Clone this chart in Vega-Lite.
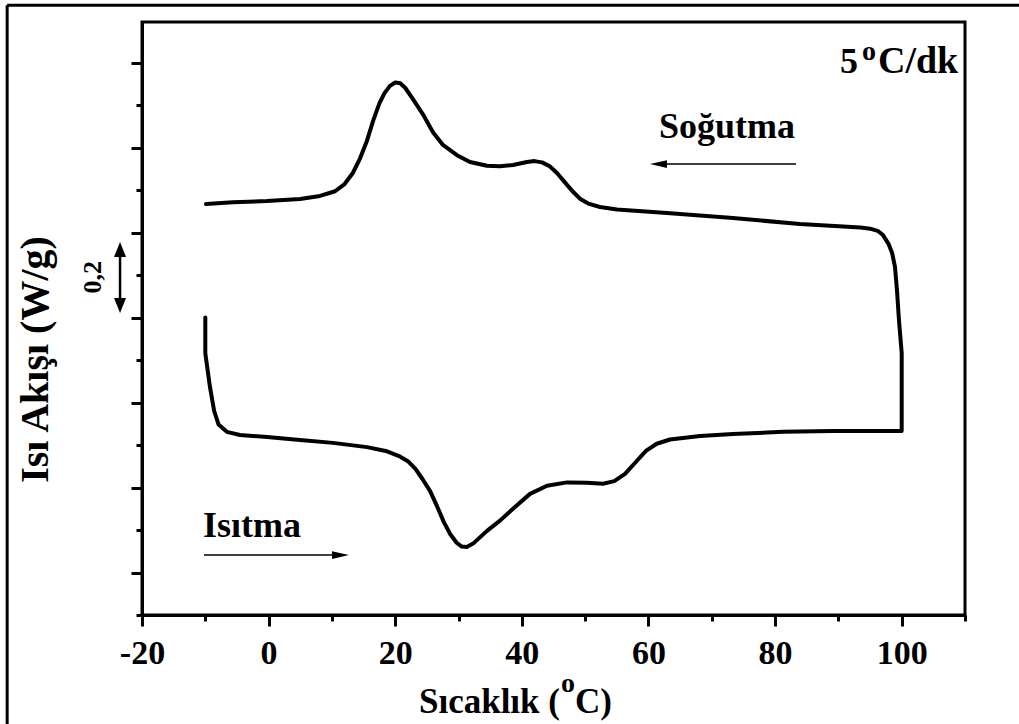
{
  "$schema": "https://vega.github.io/schema/vega-lite/v6.json",
  "width": 823,
  "height": 593,
  "autosize": {"type": "none"},
  "padding": {"left": 142, "top": 22, "right": 54, "bottom": 109},
  "background": "white",
  "config": {
    "view": {"stroke": "black", "strokeWidth": 3},
    "font": "Liberation Serif",
    "axis": {
      "grid": false,
      "domainColor": "black",
      "domainWidth": 3,
      "tickColor": "black",
      "tickWidth": 3,
      "labelColor": "black",
      "titleColor": "black",
      "labelFont": "Liberation Serif",
      "titleFont": "Liberation Serif",
      "labelFontWeight": "bold",
      "titleFontWeight": "bold"
    },
    "text": {"font": "Liberation Serif", "fontWeight": "bold", "color": "black"}
  },
  "layer": [
    {
      "data": {
        "values": [
          {"i": 1, "faz": "Isıtma", "T": -10.0, "Q": 0.70},
          {"i": 2, "faz": "Isıtma", "T": -10.0, "Q": 0.616},
          {"i": 3, "faz": "Isıtma", "T": -9.26, "Q": 0.536},
          {"i": 4, "faz": "Isıtma", "T": -8.6, "Q": 0.48},
          {"i": 5, "faz": "Isıtma", "T": -7.9, "Q": 0.448},
          {"i": 6, "faz": "Isıtma", "T": -6.6, "Q": 0.431},
          {"i": 7, "faz": "Isıtma", "T": -4.52, "Q": 0.4235},
          {"i": 8, "faz": "Isıtma", "T": -0.26, "Q": 0.419},
          {"i": 9, "faz": "Isıtma", "T": 4.96, "Q": 0.412},
          {"i": 10, "faz": "Isıtma", "T": 10.17, "Q": 0.405},
          {"i": 11, "faz": "Isıtma", "T": 15.54, "Q": 0.395},
          {"i": 12, "faz": "Isıtma", "T": 18.5, "Q": 0.386},
          {"i": 13, "faz": "Isıtma", "T": 20.6, "Q": 0.374},
          {"i": 14, "faz": "Isıtma", "T": 22.0, "Q": 0.362},
          {"i": 15, "faz": "Isıtma", "T": 23.2, "Q": 0.344},
          {"i": 16, "faz": "Isıtma", "T": 24.3, "Q": 0.32},
          {"i": 17, "faz": "Isıtma", "T": 25.49, "Q": 0.292},
          {"i": 18, "faz": "Isıtma", "T": 26.6, "Q": 0.256},
          {"i": 19, "faz": "Isıtma", "T": 27.7, "Q": 0.218},
          {"i": 20, "faz": "Isıtma", "T": 28.7, "Q": 0.19},
          {"i": 21, "faz": "Isıtma", "T": 29.7, "Q": 0.17},
          {"i": 22, "faz": "Isıtma", "T": 30.5, "Q": 0.161},
          {"i": 23, "faz": "Isıtma", "T": 31.3, "Q": 0.16},
          {"i": 24, "faz": "Isıtma", "T": 32.3, "Q": 0.168},
          {"i": 25, "faz": "Isıtma", "T": 34.49, "Q": 0.198},
          {"i": 26, "faz": "Isıtma", "T": 36.55, "Q": 0.222},
          {"i": 27, "faz": "Isıtma", "T": 38.6, "Q": 0.25},
          {"i": 28, "faz": "Isıtma", "T": 41.29, "Q": 0.285},
          {"i": 29, "faz": "Isıtma", "T": 43.97, "Q": 0.304},
          {"i": 30, "faz": "Isıtma", "T": 47.13, "Q": 0.312},
          {"i": 31, "faz": "Isıtma", "T": 50.29, "Q": 0.311},
          {"i": 32, "faz": "Isıtma", "T": 52.82, "Q": 0.309},
          {"i": 33, "faz": "Isıtma", "T": 54.6, "Q": 0.315},
          {"i": 34, "faz": "Isıtma", "T": 56.3, "Q": 0.332},
          {"i": 35, "faz": "Isıtma", "T": 58.0, "Q": 0.36},
          {"i": 36, "faz": "Isıtma", "T": 59.6, "Q": 0.386},
          {"i": 37, "faz": "Isıtma", "T": 61.3, "Q": 0.403},
          {"i": 38, "faz": "Isıtma", "T": 63.4, "Q": 0.413},
          {"i": 39, "faz": "Isıtma", "T": 68.14, "Q": 0.421},
          {"i": 40, "faz": "Isıtma", "T": 73.35, "Q": 0.426},
          {"i": 41, "faz": "Isıtma", "T": 81.25, "Q": 0.431},
          {"i": 42, "faz": "Isıtma", "T": 89.15, "Q": 0.433},
          {"i": 43, "faz": "Isıtma", "T": 100.0, "Q": 0.433},
          {"i": 44, "faz": "Soğutma", "T": 100.0, "Q": 0.506},
          {"i": 45, "faz": "Soğutma", "T": 100.0, "Q": 0.616},
          {"i": 46, "faz": "Soğutma", "T": 99.57, "Q": 0.694},
          {"i": 47, "faz": "Soğutma", "T": 99.25, "Q": 0.765},
          {"i": 48, "faz": "Soğutma", "T": 98.94, "Q": 0.819},
          {"i": 49, "faz": "Soğutma", "T": 98.5, "Q": 0.851},
          {"i": 50, "faz": "Soğutma", "T": 97.9, "Q": 0.874},
          {"i": 51, "faz": "Soğutma", "T": 97.04, "Q": 0.894},
          {"i": 52, "faz": "Soğutma", "T": 96.2, "Q": 0.904},
          {"i": 53, "faz": "Soğutma", "T": 95.0, "Q": 0.909},
          {"i": 54, "faz": "Soğutma", "T": 93.5, "Q": 0.912},
          {"i": 55, "faz": "Soğutma", "T": 83.93, "Q": 0.92},
          {"i": 56, "faz": "Soğutma", "T": 73.35, "Q": 0.934},
          {"i": 57, "faz": "Soğutma", "T": 62.93, "Q": 0.946},
          {"i": 58, "faz": "Soğutma", "T": 55.03, "Q": 0.954},
          {"i": 59, "faz": "Soğutma", "T": 52.34, "Q": 0.96},
          {"i": 60, "faz": "Soğutma", "T": 50.5, "Q": 0.968},
          {"i": 61, "faz": "Soğutma", "T": 49.3, "Q": 0.978},
          {"i": 62, "faz": "Soğutma", "T": 48.2, "Q": 0.994},
          {"i": 63, "faz": "Soğutma", "T": 47.13, "Q": 1.012},
          {"i": 64, "faz": "Soğutma", "T": 45.55, "Q": 1.04},
          {"i": 65, "faz": "Soğutma", "T": 44.4, "Q": 1.056},
          {"i": 66, "faz": "Soğutma", "T": 43.2, "Q": 1.065},
          {"i": 67, "faz": "Soğutma", "T": 42.0, "Q": 1.068},
          {"i": 68, "faz": "Soğutma", "T": 40.81, "Q": 1.066},
          {"i": 69, "faz": "Soğutma", "T": 38.6, "Q": 1.059},
          {"i": 70, "faz": "Soğutma", "T": 36.55, "Q": 1.056},
          {"i": 71, "faz": "Soğutma", "T": 34.49, "Q": 1.057},
          {"i": 72, "faz": "Soğutma", "T": 31.81, "Q": 1.066},
          {"i": 73, "faz": "Soğutma", "T": 29.75, "Q": 1.082},
          {"i": 74, "faz": "Soğutma", "T": 27.54, "Q": 1.106},
          {"i": 75, "faz": "Soğutma", "T": 25.96, "Q": 1.136},
          {"i": 76, "faz": "Soğutma", "T": 24.38, "Q": 1.178},
          {"i": 77, "faz": "Soğutma", "T": 22.8, "Q": 1.214},
          {"i": 78, "faz": "Soğutma", "T": 21.6, "Q": 1.24},
          {"i": 79, "faz": "Soğutma", "T": 20.8, "Q": 1.251},
          {"i": 80, "faz": "Soğutma", "T": 20.0, "Q": 1.253},
          {"i": 81, "faz": "Soğutma", "T": 19.17, "Q": 1.245},
          {"i": 82, "faz": "Soğutma", "T": 18.3, "Q": 1.228},
          {"i": 83, "faz": "Soğutma", "T": 17.5, "Q": 1.204},
          {"i": 84, "faz": "Soğutma", "T": 16.49, "Q": 1.162},
          {"i": 85, "faz": "Soğutma", "T": 15.54, "Q": 1.116},
          {"i": 86, "faz": "Soğutma", "T": 14.43, "Q": 1.074},
          {"i": 87, "faz": "Soğutma", "T": 13.3, "Q": 1.04},
          {"i": 88, "faz": "Soğutma", "T": 12.0, "Q": 1.014},
          {"i": 89, "faz": "Soğutma", "T": 10.5, "Q": 0.997},
          {"i": 90, "faz": "Soğutma", "T": 8.12, "Q": 0.986},
          {"i": 91, "faz": "Soğutma", "T": 4.96, "Q": 0.979},
          {"i": 92, "faz": "Soğutma", "T": -0.26, "Q": 0.974},
          {"i": 93, "faz": "Soğutma", "T": -5.63, "Q": 0.971},
          {"i": 94, "faz": "Soğutma", "T": -9.89, "Q": 0.967}
        ]
      },
      "mark": {"type": "line", "color": "black", "strokeWidth": 4, "interpolate": "linear", "strokeJoin": "round", "strokeCap": "round"},
      "encoding": {
        "x": {
          "field": "T", "type": "quantitative",
          "scale": {"domain": [-20, 110], "nice": false, "zero": false},
          "axis": {"orient": "bottom", "values": [-20, 0, 20, 40, 60, 80, 100], "tickSize": 11, "labelFontSize": 34, "labelPadding": 10, "labelExpr": "'' + datum.value", "labelFlush": false, "labelOverlap": false, "title": null}
        },
        "y": {
          "field": "Q", "type": "quantitative",
          "scale": {"domain": [0, 1.3953], "nice": false, "zero": false},
          "axis": {"orient": "left", "values": [0.1, 0.3, 0.5, 0.7, 0.9, 1.1, 1.3], "tickSize": 11, "labels": false, "title": "Isı Akışı (W/g)", "titleFontSize": 40, "titleX": -95, "titleY": 337, "titleAngle": 270, "titleBaseline": "alphabetic", "titleAlign": "center"}
        },
        "order": {"field": "i", "type": "quantitative"}
      }
    },
    {
      "data": {"values": [{}]},
      "mark": {"type": "rule", "color": "black", "strokeWidth": 3},
      "encoding": {
        "x": {"datum": -41.3, "type": "quantitative", "axis": {"orient": "bottom", "values": [-10, 10, 30, 50, 70, 90, 110], "tickSize": 6, "labels": false, "domain": false, "title": null}},
        "x2": {"datum": 125},
        "y": {"datum": 1.435, "type": "quantitative", "axis": {"orient": "left", "values": [0, 0.2, 0.4, 0.6, 0.8, 1.0, 1.2], "tickSize": 6, "labels": false, "domain": false, "title": null}}
      }
    },
    {
      "data": {"values": [{}]},
      "mark": {"type": "rule", "color": "black", "strokeWidth": 3},
      "encoding": {
        "x": {"datum": -41.3, "type": "quantitative", "axis": null},
        "y": {"datum": 1.435, "type": "quantitative", "axis": null},
        "y2": {"datum": -0.35}
      }
    },
    {
      "data": {"values": [{}]},
      "mark": {"type": "rule", "color": "black", "strokeWidth": 1.5},
      "encoding": {
        "x": {"datum": 83.3, "type": "quantitative", "axis": null},
        "x2": {"datum": 61.6},
        "y": {"datum": 1.061, "type": "quantitative", "axis": null}
      }
    },
    {
      "data": {"values": [{}]},
      "mark": {"type": "point", "filled": true, "color": "black", "opacity": 1, "strokeWidth": 0, "size": 289, "shape": "M1,-0.45L-1,0L1,0.45Z"},
      "encoding": {
        "x": {"datum": 61.58, "type": "quantitative", "axis": null},
        "y": {"datum": 1.061, "type": "quantitative", "axis": null}
      }
    },
    {
      "data": {"values": [{}]},
      "mark": {"type": "rule", "color": "black", "strokeWidth": 1.5},
      "encoding": {
        "x": {"datum": -10.2, "type": "quantitative", "axis": null},
        "x2": {"datum": 11.35},
        "y": {"datum": 0.141, "type": "quantitative", "axis": null}
      }
    },
    {
      "data": {"values": [{}]},
      "mark": {"type": "point", "filled": true, "color": "black", "opacity": 1, "strokeWidth": 0, "size": 289, "shape": "M-1,-0.45L1,0L-1,0.45Z"},
      "encoding": {
        "x": {"datum": 11.35, "type": "quantitative", "axis": null},
        "y": {"datum": 0.141, "type": "quantitative", "axis": null}
      }
    },
    {
      "data": {"values": [{}]},
      "mark": {"type": "rule", "color": "black", "strokeWidth": 2.5},
      "encoding": {
        "x": {"datum": -23.47, "type": "quantitative", "axis": null},
        "y": {"datum": 0.86, "type": "quantitative", "axis": null},
        "y2": {"datum": 0.728}
      }
    },
    {
      "data": {"values": [{}]},
      "mark": {"type": "point", "filled": true, "color": "black", "opacity": 1, "strokeWidth": 0, "size": 225, "shape": "M-0.8,1L0,-1L0.8,1Z"},
      "encoding": {
        "x": {"datum": -23.47, "type": "quantitative", "axis": null},
        "y": {"datum": 0.86, "type": "quantitative", "axis": null}
      }
    },
    {
      "data": {"values": [{}]},
      "mark": {"type": "point", "filled": true, "color": "black", "opacity": 1, "strokeWidth": 0, "size": 225, "shape": "M-0.8,-1L0,1L0.8,-1Z"},
      "encoding": {
        "x": {"datum": -23.47, "type": "quantitative", "axis": null},
        "y": {"datum": 0.728, "type": "quantitative", "axis": null}
      }
    },
    {
      "data": {"values": [{}]},
      "mark": {"type": "text", "text": "0,2", "fontSize": 26, "angle": 270, "align": "center", "baseline": "middle"},
      "encoding": {
        "x": {"datum": -27.74, "type": "quantitative", "axis": null},
        "y": {"datum": 0.795, "type": "quantitative", "axis": null}
      }
    },
    {
      "data": {"values": [{}]},
      "mark": {"type": "text", "text": "5", "fontSize": 36, "align": "left", "baseline": "alphabetic"},
      "encoding": {
        "x": {"datum": 90.25, "type": "quantitative", "axis": null},
        "y": {"datum": 1.275, "type": "quantitative", "axis": null}
      }
    },
    {
      "data": {"values": [{}]},
      "mark": {"type": "text", "text": "o", "fontSize": 28, "align": "left", "baseline": "alphabetic"},
      "encoding": {
        "x": {"datum": 93.73, "type": "quantitative", "axis": null},
        "y": {"datum": 1.306, "type": "quantitative", "axis": null}
      }
    },
    {
      "data": {"values": [{}]},
      "mark": {"type": "text", "text": "C/dk", "fontSize": 38, "align": "left", "baseline": "alphabetic"},
      "encoding": {
        "x": {"datum": 96.25, "type": "quantitative", "axis": null},
        "y": {"datum": 1.275, "type": "quantitative", "axis": null}
      }
    },
    {
      "data": {"values": [{}]},
      "mark": {"type": "text", "text": "Soğutma", "fontSize": 36, "align": "left", "baseline": "alphabetic"},
      "encoding": {
        "x": {"datum": 61.66, "type": "quantitative", "axis": null},
        "y": {"datum": 1.122, "type": "quantitative", "axis": null}
      }
    },
    {
      "data": {"values": [{}]},
      "mark": {"type": "text", "text": "Isıtma", "fontSize": 36, "align": "left", "baseline": "alphabetic"},
      "encoding": {
        "x": {"datum": -10.36, "type": "quantitative", "axis": null},
        "y": {"datum": 0.1835, "type": "quantitative", "axis": null}
      }
    },
    {
      "data": {"values": [{}]},
      "mark": {"type": "text", "text": "Sıcaklık (", "fontSize": 35, "align": "right", "baseline": "alphabetic"},
      "encoding": {
        "x": {"datum": 46.02, "type": "quantitative", "axis": null},
        "y": {"datum": -0.2306, "type": "quantitative", "axis": null}
      }
    },
    {
      "data": {"values": [{}]},
      "mark": {"type": "text", "text": "o", "fontSize": 28, "align": "left", "baseline": "alphabetic"},
      "encoding": {
        "x": {"datum": 46.18, "type": "quantitative", "axis": null},
        "y": {"datum": -0.181, "type": "quantitative", "axis": null}
      }
    },
    {
      "data": {"values": [{}]},
      "mark": {"type": "text", "text": "C)", "fontSize": 35, "align": "left", "baseline": "alphabetic"},
      "encoding": {
        "x": {"datum": 48.4, "type": "quantitative", "axis": null},
        "y": {"datum": -0.2306, "type": "quantitative", "axis": null}
      }
    }
  ],
  "resolve": {"axis": {"x": "independent", "y": "independent"}}
}
